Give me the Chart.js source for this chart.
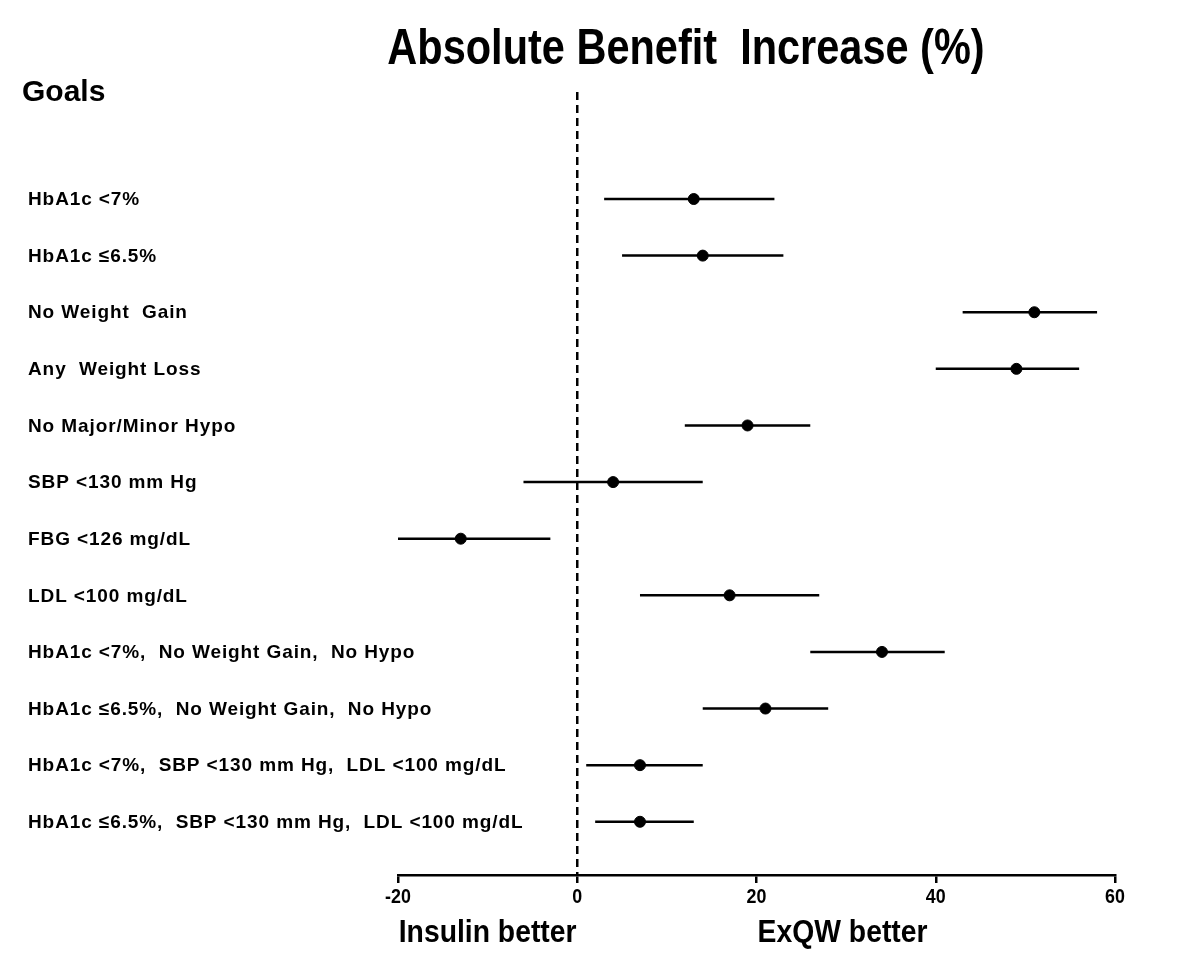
<!DOCTYPE html>
<html>
<head>
<meta charset="utf-8">
<script src="https://cdn.jsdelivr.net/npm/chart.js@4/dist/chart.umd.min.js"></script>
<style>
  body { margin: 0; background: #fff; }
  #wrap { width: 1200px; height: 967px; }
</style>
</head>
<body>
<div id="wrap"><canvas id="myChart" width="1200" height="967"></canvas></div>
<script>
//data
const goals = [
  "HbA1c <7%",
  "HbA1c \u22646.5%",
  "No Weight  Gain",
  "Any  Weight Loss",
  "No Major/Minor Hypo",
  "SBP <130 mm Hg",
  "FBG <126 mg/dL",
  "LDL <100 mg/dL",
  "HbA1c <7%,  No Weight Gain,  No Hypo",
  "HbA1c \u22646.5%,  No Weight Gain,  No Hypo",
  "HbA1c <7%,  SBP <130 mm Hg,  LDL <100 mg/dL",
  "HbA1c \u22646.5%,  SBP <130 mm Hg,  LDL <100 mg/dL",
];
const estimate = [13, 14, 51, 49, 19, 4, -13, 17, 34, 21, 7, 7];
const lower = [3, 5, 43, 40, 12, -6, -20, 7, 26, 14, 1, 2];
const upper = [22, 23, 58, 56, 26, 14, -3, 27, 41, 28, 14, 13];
const xTicks = [-20, 0, 20, 40, 60];

const yMin = -1.89;
const yMax = 11.94;
const fontFam = '"Liberation Sans", Arial, sans-serif';

//confidence interval segments, broken by nulls
let ciData = [];
goals.forEach((g, i) => {
  ciData.push({ x: lower[i], y: i });
  ciData.push({ x: upper[i], y: i });
  ciData.push({ x: null, y: null });
});

let pointData = estimate.map((v, i) => ({ x: v, y: i }));

//no narrow font installed, so squeeze the text horizontally
function narrowText(ctx, text, x, y, squeeze) {
  ctx.save();
  ctx.translate(x, y);
  ctx.scale(squeeze, 1);
  ctx.fillText(text, 0, 0);
  ctx.restore();
}

//text drawn around the plot
const textPlugin = {
  id: "forestText",
  afterDraw(chart) {
    const ctx = chart.ctx;
    const xs = chart.scales.x;
    const ys = chart.scales.y;
    ctx.save();
    ctx.fillStyle = "#000";

    //title
    ctx.font = "bold 50px " + fontFam;
    ctx.textAlign = "center";
    ctx.textBaseline = "alphabetic";
    narrowText(ctx, "Absolute Benefit  Increase (%)", 686, 64, 0.83);

    //Goals heading
    ctx.font = "bold 30px " + fontFam;
    ctx.textAlign = "left";
    ctx.fillText("Goals", 22, 101);

    //row labels
    ctx.font = "bold 19px " + fontFam;
    ctx.letterSpacing = "0.9px";
    ctx.textBaseline = "middle";
    goals.forEach((g, i) => {
      ctx.fillText(g, 28, ys.getPixelForValue(i) + 1);
    });
    ctx.letterSpacing = "0px";

    //tick labels
    ctx.font = "bold 21px " + fontFam;
    ctx.textAlign = "center";
    ctx.textBaseline = "alphabetic";
    xTicks.forEach((v) => {
      narrowText(ctx, String(v), xs.getPixelForValue(v), 903, 0.85);
    });

    //favours labels
    ctx.font = "bold 32px " + fontFam;
    narrowText(ctx, "Insulin better", xs.getPixelForValue(-10), 942, 0.885);
    narrowText(ctx, "ExQW better", xs.getPixelForValue(29.6), 942, 0.885);
    ctx.restore();
  },
};

const config = {
  type: "scatter",
  data: {
    datasets: [
      {
        label: "zero",
        data: [{ x: 0, y: yMin }, { x: 0, y: yMax }],
        showLine: true,
        borderColor: "#000",
        borderWidth: 2.5,
        borderDash: [8, 5],
        pointRadius: 0,
        clip: false,
      },
      {
        label: "CI",
        data: ciData,
        showLine: true,
        spanGaps: false,
        borderColor: "#000",
        borderWidth: 2.5,
        pointRadius: 0,
      },
      {
        label: "Estimate",
        data: pointData,
        backgroundColor: "#000",
        borderColor: "#000",
        pointRadius: 5.5,
      },
    ],
  },
  options: {
    responsive: false,
    animation: false,
    devicePixelRatio: 1,
    layout: {
      padding: { left: 398, right: 85, top: 92, bottom: 42 },
    },
    plugins: {
      legend: { display: false },
      tooltip: { enabled: false },
    },
    scales: {
      x: {
        type: "linear",
        min: -20,
        max: 60,
        afterBuildTicks: (scale) => {
          scale.ticks = xTicks.map((v) => ({ value: v }));
        },
        afterFit: (scale) => {
          scale.height = 50;
        },
        border: { display: true, color: "#000", width: 2.5 },
        grid: {
          drawOnChartArea: false,
          drawTicks: true,
          tickLength: 8,
          color: "#000",
          lineWidth: 2.5,
        },
        ticks: {
          display: false,
        },
      },
      y: {
        type: "linear",
        display: false,
        reverse: true,
        min: yMin,
        max: yMax,
      },
    },
  },
  plugins: [textPlugin],
};

const myChart = new Chart(document.getElementById("myChart"), config);
</script>
</body>
</html>
